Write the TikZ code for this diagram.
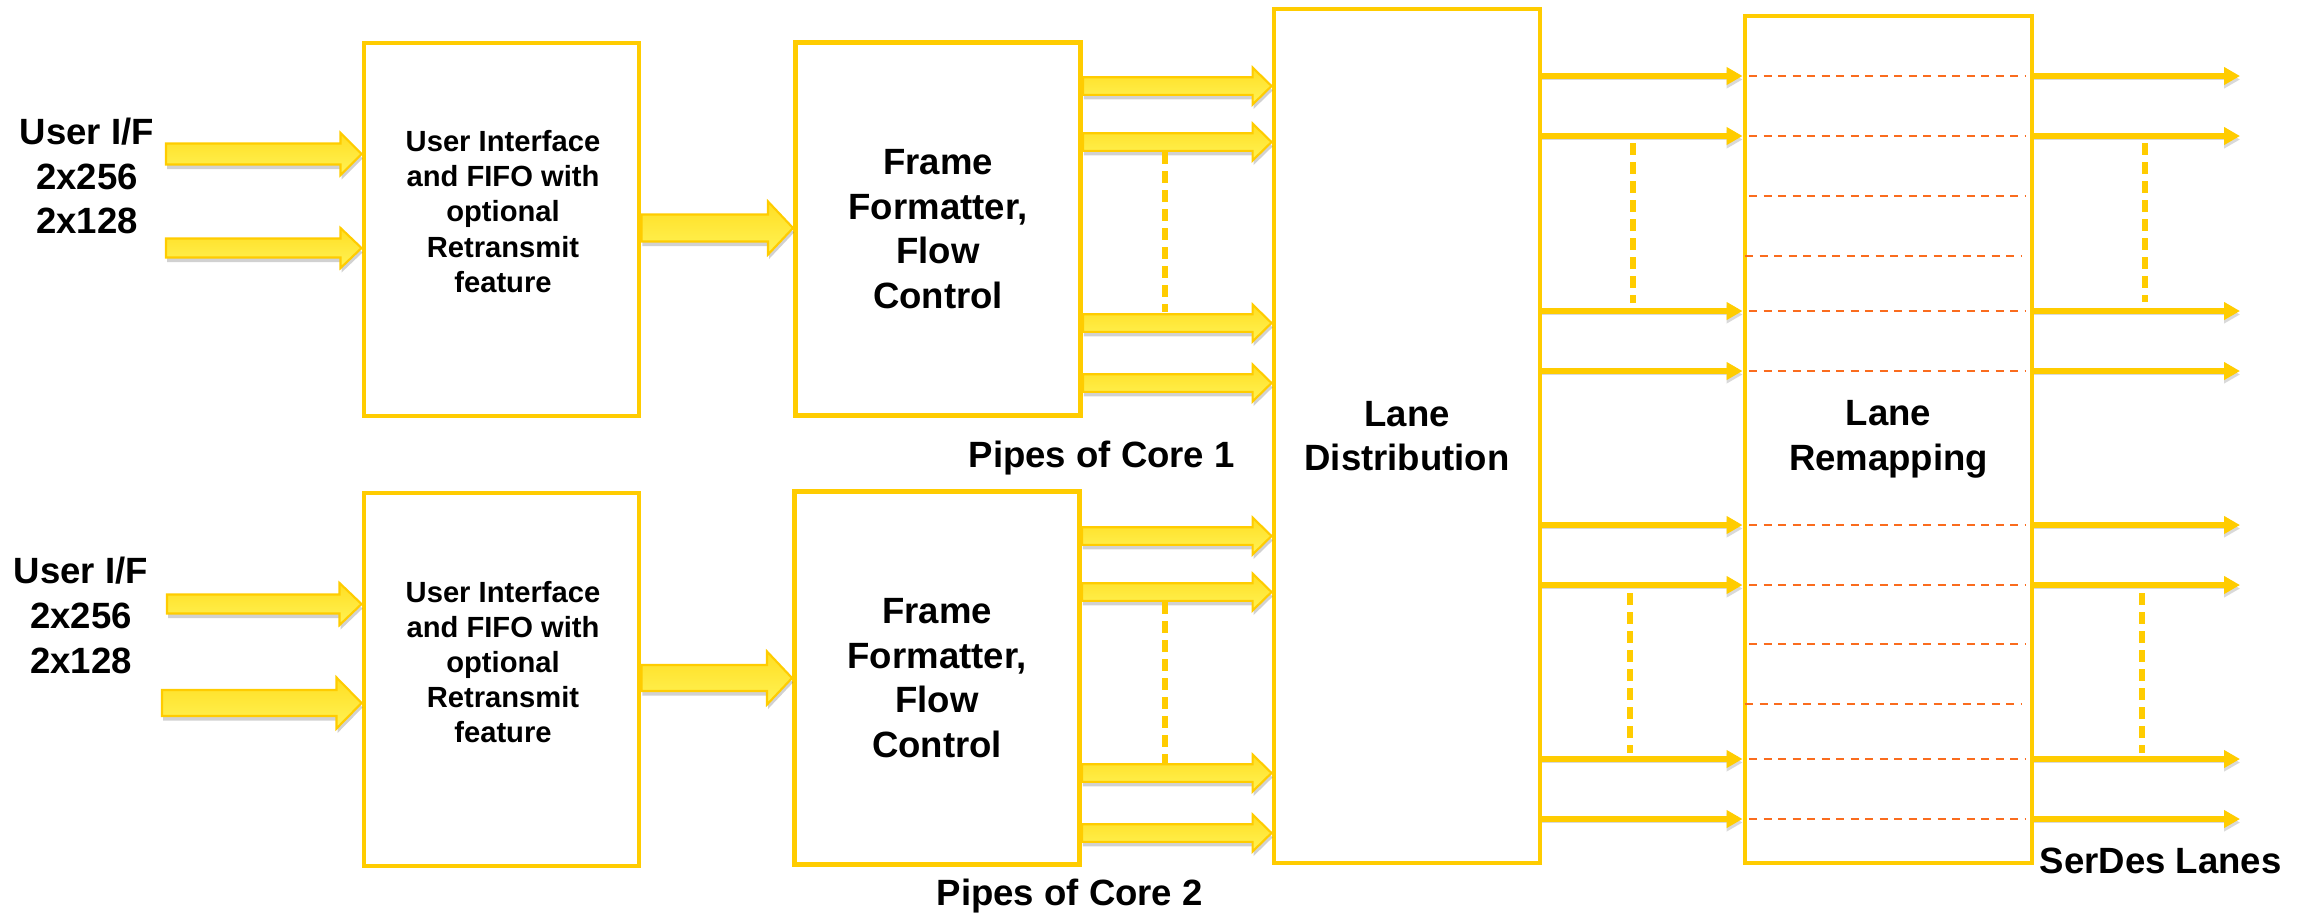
\documentclass[tikz,border=0pt]{standalone}
\usepackage{fontspec}
\setmainfont{Liberation Sans}
\usepackage{tikz}
\usetikzlibrary{arrows.meta, calc, shadows}
\definecolor{gold}{RGB}{255,204,0}
\definecolor{arrtop}{RGB}{255,222,35}
\definecolor{arrbot}{RGB}{255,243,85}
\definecolor{remaporange}{RGB}{250,108,30}

% fat block arrow: start, tip, half shaft, half head, head length
\newcommand{\fatarrow}[5]{%
  \draw[fat] ($#1+(0,#3)$) -- ($#2+(-#5,#3)$) -- ($#2+(-#5,#4)$) -- #2
    -- ($#2+(-#5,-#4)$) -- ($#2+(-#5,-#3)$) -- ($#1+(0,-#3)$) -- cycle;}

\begin{document}
\begin{tikzpicture}[
  box/.style={draw=gold, line width=1.4pt, rectangle, inner sep=0pt},
  lbl/.style={font=\fontsize{10.4}{12.7}\selectfont\bfseries, align=center, inner sep=0pt},
  uitext/.style={font=\fontsize{8.3}{10}\selectfont\bfseries, align=center, inner sep=0pt},
  fat/.style={draw=gold, line width=0.6pt, top color=arrtop, bottom color=arrbot,
              drop shadow={shadow xshift=0.01cm, shadow yshift=-0.045cm, opacity=0.3, fill=black!60}},
  lane/.style={-{Triangle[length=0.16cm, width=0.17cm]}, line width=1.6pt, draw=gold,
               preaction={draw=black!15, transform canvas={yshift=-0.035cm}}},
  dots/.style={draw=gold, line width=1.6pt, dash pattern=on 0.12cm off 0.07cm},
  remap/.style={draw=remaporange, line width=0.75pt, dash pattern=on 0.08cm off 0.065cm}
]
\useasboundingbox (0,0) rectangle (23.1,-9.17);

% Inputs
\node[lbl] (uif1) at (0.87,-1.76) {User I/F\\2x256\\2x128};
\node[lbl] (uif2) at (0.81,-6.155) {User I/F\\2x256\\2x128};

% Core 1
\node[box, minimum width=2.75cm, minimum height=3.73cm] (ui1) at (5.015,-2.295) {};
\node[uitext] (ui1t) at (5.03,-2.115)
  {User Interface\\and FIFO with\\optional\\Retransmit\\feature};
\node[box, lbl, minimum width=2.85cm, minimum height=3.73cm] (ff1) at (9.38,-2.29)
  {Frame\\Formatter,\\Flow\\Control};

% Core 2
\node[box, minimum width=2.75cm, minimum height=3.73cm] (ui2) at (5.015,-6.795) {};
\node[uitext] (ui2t) at (5.03,-6.62)
  {User Interface\\and FIFO with\\optional\\Retransmit\\feature};
\node[box, lbl, minimum width=2.85cm, minimum height=3.73cm] (ff2) at (9.37,-6.78)
  {Frame\\Formatter,\\Flow\\Control};

% Lanes
\node[box, lbl, minimum width=2.66cm, minimum height=8.54cm] (ld) at (14.07,-4.36)
  {Lane\\Distribution};
\node[box, lbl, minimum width=2.87cm, minimum height=8.47cm] (lr) at (18.885,-4.395)
  {Lane\\Remapping};

% Labels
\node[lbl, anchor=base west] (pc1) at (9.68,-4.67) {Pipes of Core 1};
\node[lbl, anchor=base west] (pc2) at (9.36,-9.05) {Pipes of Core 2};
\node[lbl, anchor=base west] (serdes) at (20.39,-8.73) {SerDes Lanes};

% Free ends and rows
\coordinate (in1) at (1.66,-1.54);
\coordinate (in2) at (1.66,-2.48);
\coordinate (in3) at (1.67,-6.04);
\coordinate (in4) at (1.62,-7.03);
\coordinate (c1) at (0,-2.28);
\coordinate (c2) at (0,-6.78);
\coordinate (p1) at (0,-0.86);
\coordinate (p2) at (0,-1.42);
\coordinate (p3) at (0,-3.23);
\coordinate (p4) at (0,-3.83);
\coordinate (p5) at (0,-5.36);
\coordinate (p6) at (0,-5.92);
\coordinate (p7) at (0,-7.73);
\coordinate (p8) at (0,-8.33);
\coordinate (o1) at (22.40,-0.76);
\coordinate (o2) at (22.40,-1.36);
\coordinate (o3) at (22.40,-3.11);
\coordinate (o4) at (22.40,-3.71);
\coordinate (o5) at (22.40,-5.25);
\coordinate (o6) at (22.40,-5.85);
\coordinate (o7) at (22.40,-7.59);
\coordinate (o8) at (22.40,-8.19);

% Fat arrows
\fatarrow{(in1)}{(ui1.west |- in1)}{0.105}{0.21}{0.21}
\fatarrow{(in2)}{(ui1.west |- in2)}{0.095}{0.20}{0.21}
\fatarrow{(in3)}{(ui2.west |- in3)}{0.095}{0.21}{0.22}
\fatarrow{(in4)}{(ui2.west |- in4)}{0.13}{0.255}{0.25}

\fatarrow{(ui1.east |- c1)}{(ff1.west |- c1)}{0.135}{0.265}{0.25}
\fatarrow{(ui2.east |- c2)}{(ff2.west |- c2)}{0.13}{0.265}{0.25}

\fatarrow{(ff1.east |- p1)}{(ld.west |- p1)}{0.088}{0.185}{0.19}
\fatarrow{(ff1.east |- p2)}{(ld.west |- p2)}{0.088}{0.185}{0.19}
\fatarrow{(ff1.east |- p3)}{(ld.west |- p3)}{0.088}{0.185}{0.19}
\fatarrow{(ff1.east |- p4)}{(ld.west |- p4)}{0.088}{0.185}{0.19}
\fatarrow{(ff2.east |- p5)}{(ld.west |- p5)}{0.088}{0.185}{0.19}
\fatarrow{(ff2.east |- p6)}{(ld.west |- p6)}{0.088}{0.185}{0.19}
\fatarrow{(ff2.east |- p7)}{(ld.west |- p7)}{0.088}{0.185}{0.19}
\fatarrow{(ff2.east |- p8)}{(ld.west |- p8)}{0.088}{0.185}{0.19}

% Lane arrows
\draw[lane] (ld.east |- o1) -- (lr.west |- o1);
\draw[lane] (ld.east |- o2) -- (lr.west |- o2);
\draw[lane] (ld.east |- o3) -- (lr.west |- o3);
\draw[lane] (ld.east |- o4) -- (lr.west |- o4);
\draw[lane] (ld.east |- o5) -- (lr.west |- o5);
\draw[lane] (ld.east |- o6) -- (lr.west |- o6);
\draw[lane] (ld.east |- o7) -- (lr.west |- o7);
\draw[lane] (ld.east |- o8) -- (lr.west |- o8);

\draw[lane] (lr.east |- o1) -- (o1);
\draw[lane] (lr.east |- o2) -- (o2);
\draw[lane] (lr.east |- o3) -- (o3);
\draw[lane] (lr.east |- o4) -- (o4);
\draw[lane] (lr.east |- o5) -- (o5);
\draw[lane] (lr.east |- o6) -- (o6);
\draw[lane] (lr.east |- o7) -- (o7);
\draw[lane] (lr.east |- o8) -- (o8);

% Remapping lines
\draw[remap] (17.49,-0.76) -- (20.25,-0.76);
\draw[remap] (17.49,-1.36) -- (20.25,-1.36);
\draw[remap] (17.49,-1.96) -- (20.25,-1.96);
\draw[remap] (17.45,-2.56) -- (20.21,-2.56);
\draw[remap] (17.49,-3.11) -- (20.25,-3.11);
\draw[remap] (17.49,-3.71) -- (20.25,-3.71);
\draw[remap] (17.49,-5.25) -- (20.25,-5.25);
\draw[remap] (17.49,-5.85) -- (20.25,-5.85);
\draw[remap] (17.49,-6.44) -- (20.25,-6.44);
\draw[remap] (17.45,-7.04) -- (20.21,-7.04);
\draw[remap] (17.49,-7.59) -- (20.25,-7.59);
\draw[remap] (17.49,-8.19) -- (20.25,-8.19);

% Dashed gaps
\draw[dots] (11.65,-1.52) -- (11.65,-3.12);
\draw[dots] (11.65,-6.02) -- (11.65,-7.63);
\draw[dots] (16.33,-1.43) -- (16.33,-3.03);
\draw[dots] (16.30,-5.93) -- (16.30,-7.53);
\draw[dots] (21.45,-1.43) -- (21.45,-3.02);
\draw[dots] (21.42,-5.93) -- (21.42,-7.53);

\end{tikzpicture}
\end{document}
